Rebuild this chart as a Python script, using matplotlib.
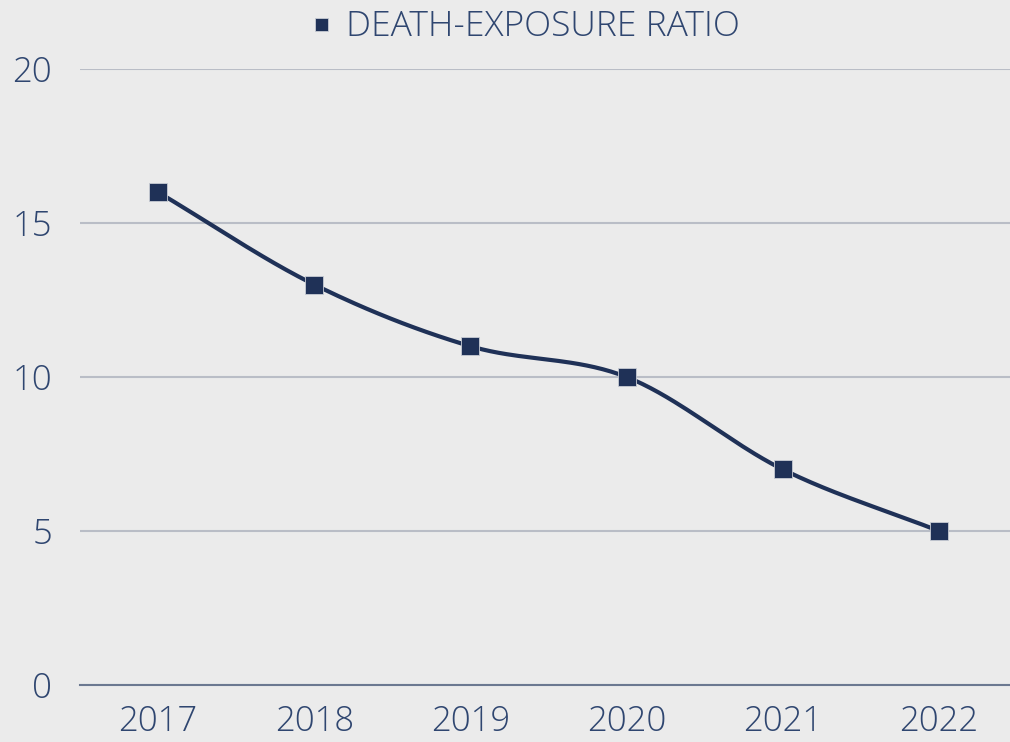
import numpy as np
import matplotlib
matplotlib.use('Agg')
import matplotlib.pyplot as plt

# chart data
years = ['2017', '2018', '2019', '2020', '2021', '2022']
ratio = [16, 13, 11, 10, 7, 5]
series_name = 'DEATH-EXPOSURE RATIO'

navy = '#1f3157'
textColor = '#2f4670'
bg = '#ebebeb'


def smooth(xs, ys, steps=40):
    # catmull-rom curve through the points, like a spreadsheet smoothed line
    xs = np.asarray(xs, float)
    ys = np.asarray(ys, float)
    px = np.concatenate([[2 * xs[0] - xs[1]], xs, [2 * xs[-1] - xs[-2]]])
    py = np.concatenate([[2 * ys[0] - ys[1]], ys, [2 * ys[-1] - ys[-2]]])
    outX, outY = [], []
    t = np.linspace(0, 1, steps)
    for i in range(1, len(px) - 2):
        for arr, out in ((px, outX), (py, outY)):
            p0, p1, p2, p3 = arr[i - 1], arr[i], arr[i + 1], arr[i + 2]
            seg = 0.5 * ((2 * p1) + (-p0 + p2) * t +
                         (2 * p0 - 5 * p1 + 4 * p2 - p3) * t ** 2 +
                         (-p0 + 3 * p1 - 3 * p2 + p3) * t ** 3)
            out.extend(seg)
    return outX, outY


plt.rcParams['font.family'] = ['Open Sans', 'DejaVu Sans']

fig = plt.figure(figsize=(10.1, 7.42), dpi=100, facecolor=bg)
ax = fig.add_axes([80 / 1010, 57 / 742, 937 / 1010, 616 / 742])
ax.set_facecolor(bg)

xPos = np.arange(len(years))
sx, sy = smooth(xPos, ratio)
ax.plot(sx, sy, color=navy, lw=3, solid_capstyle='round', zorder=3)
ax.plot(xPos, ratio, ls='none', marker='s', ms=13, color=navy,
        markeredgecolor='#c8ccd4', markeredgewidth=0.6, zorder=4,
        label=series_name)

ax.set_xlim(-0.5, 5.5)
ax.set_ylim(0, 20)
ax.set_yticks([0, 5, 10, 15, 20])
ax.set_xticks(xPos)
ax.set_xticklabels(years)
ax.yaxis.grid(True, color='#b9bdc6', lw=1.5)
ax.set_axisbelow(True)
for side in ['left', 'right', 'top']:
    ax.spines[side].set_visible(False)
ax.spines['bottom'].set_color('#6b7890')
ax.spines['bottom'].set_linewidth(1.5)
ax.tick_params(length=0, colors=textColor, labelsize=25)
ax.tick_params(axis='x', pad=14)
ax.tick_params(axis='y', pad=20)
for lbl in ax.get_xticklabels() + ax.get_yticklabels():
    lbl.set_fontweight('light')

leg = fig.legend(loc='upper center', bbox_to_anchor=(0.521, 1.03), frameon=False,
                 handlelength=0.5, handletextpad=0.45, markerscale=0.72,
                 prop={'size': 25.5, 'weight': 'light'})
for t in leg.get_texts():
    t.set_color(textColor)

fig.savefig('out.png', dpi=100, facecolor=bg)
